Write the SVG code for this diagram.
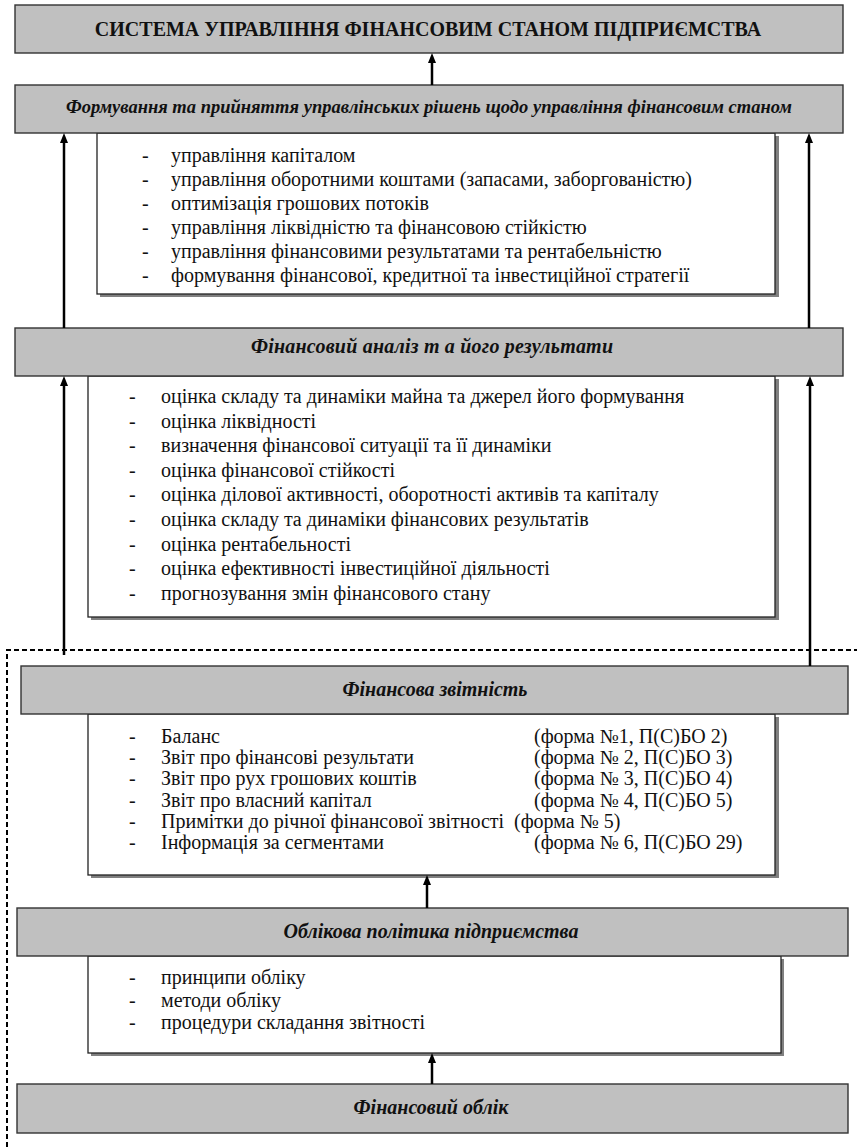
<svg xmlns="http://www.w3.org/2000/svg" width="857" height="1147" viewBox="0 0 857 1147">
<style>
.hdr{fill:#c0c0c0;stroke:#333;stroke-width:1.4}
.shadow{fill:#808080}
.list{fill:#fff;stroke:#222;stroke-width:1.3}
text{font-family:"Liberation Serif","Times New Roman",Tinos,"DejaVu Serif",serif}
.title{font-weight:bold;font-size:20px;fill:#111;text-anchor:middle}
.lbl{font-weight:bold;font-style:italic;font-size:20px;fill:#111;text-anchor:middle}
.txt{font-size:20px;fill:#111}
.conn{stroke:#000;stroke-width:2.5;fill:none;marker-end:url(#ah)}
.dash{stroke:#000;stroke-width:2;fill:none;stroke-dasharray:5 3}
</style>
<defs>
<marker id="ah" viewBox="0 0 10 8" refX="4" refY="4" markerWidth="10" markerHeight="8" markerUnits="userSpaceOnUse" orient="auto">
<path d="M0,0 L10,4 L0,8 z" fill="#000"/>
</marker>
</defs>

<g id="boundary">
<path class="dash" d="M7,1147 V650 H857"/>
</g>

<g id="n-system">
<rect class="hdr" x="15" y="5" width="828" height="48"/>
<text class="title" x="428" y="36">СИСТЕМА УПРАВЛІННЯ ФІНАНСОВИМ СТАНОМ ПІДПРИЄМСТВА</text>
</g>

<g id="n-decisions">
<rect class="shadow" x="100" y="136" width="679" height="161"/>
<rect class="list" x="97" y="133" width="678" height="161"/>
<rect class="hdr" x="15" y="85" width="828" height="48"/>
<text class="lbl" x="429" y="113" style="font-size:18.5px">Формування та прийняття управлінських рішень щодо управління фінансовим станом</text>
<g class="txt">
<text x="142" y="162">-</text><text x="171" y="162">управління капіталом</text>
<text x="142" y="186">-</text><text x="171" y="186">управління оборотними коштами (запасами, заборгованістю)</text>
<text x="142" y="210">-</text><text x="171" y="210">оптимізація грошових потоків</text>
<text x="142" y="234">-</text><text x="171" y="234">управління ліквідністю та фінансовою стійкістю</text>
<text x="142" y="258">-</text><text x="171" y="258">управління фінансовими результатами та рентабельністю</text>
<text x="142" y="282">-</text><text x="171" y="282">формування фінансової, кредитної та інвестиційної стратегії</text>
</g>
</g>

<g id="n-analysis">
<rect class="shadow" x="91" y="379" width="688" height="241"/>
<rect class="list" x="88" y="376" width="687" height="241"/>
<rect class="hdr" x="15" y="328" width="828" height="48"/>
<text class="lbl" x="432" y="353" textLength="362" lengthAdjust="spacing">Фінансовий аналіз т а його результати</text>
<g class="txt">
<text x="129" y="403">-</text><text x="161" y="403">оцінка складу та динаміки майна та джерел його формування</text>
<text x="129" y="427.6">-</text><text x="161" y="427.6">оцінка ліквідності</text>
<text x="129" y="452.2">-</text><text x="161" y="452.2">визначення фінансової ситуації та її динаміки</text>
<text x="129" y="476.8">-</text><text x="161" y="476.8">оцінка фінансової стійкості</text>
<text x="129" y="501.4">-</text><text x="161" y="501.4">оцінка ділової активності, оборотності активів та капіталу</text>
<text x="129" y="526">-</text><text x="161" y="526">оцінка складу та динаміки фінансових результатів</text>
<text x="129" y="550.6">-</text><text x="161" y="550.6">оцінка рентабельності</text>
<text x="129" y="575.2">-</text><text x="161" y="575.2">оцінка ефективності інвестиційної діяльності</text>
<text x="129" y="599.8">-</text><text x="161" y="599.8">прогнозування змін фінансового стану</text>
</g>
</g>

<g id="n-reporting">
<rect class="shadow" x="91" y="717" width="688" height="161"/>
<rect class="list" x="88" y="714" width="687" height="161"/>
<rect class="hdr" x="21" y="666" width="827" height="48"/>
<text class="lbl" x="435" y="696">Фінансова звітність</text>
<g class="txt">
<text x="129" y="743">-</text><text x="161" y="743">Баланс</text><text x="534" y="743">(форма №1, П(С)БО 2)</text>
<text x="129" y="764.2">-</text><text x="161" y="764.2">Звіт про фінансові результати</text><text x="534" y="764.2">(форма № 2, П(С)БО 3)</text>
<text x="129" y="785.4">-</text><text x="161" y="785.4">Звіт про рух грошових коштів</text><text x="534" y="785.4">(форма № 3, П(С)БО 4)</text>
<text x="129" y="806.6">-</text><text x="161" y="806.6">Звіт про власний капітал</text><text x="534" y="806.6">(форма № 4, П(С)БО 5)</text>
<text x="129" y="827.8">-</text><text x="161" y="827.8">Примітки до річної фінансової звітності</text><text x="514" y="827.8">(форма № 5)</text>
<text x="129" y="849">-</text><text x="161" y="849">Інформація за сегментами</text><text x="534" y="849">(форма № 6, П(С)БО 29)</text>
</g>
</g>

<g id="n-policy">
<rect class="shadow" x="91" y="959" width="693" height="97"/>
<rect class="list" x="88" y="956" width="693" height="97"/>
<rect class="hdr" x="17" y="908" width="831" height="48"/>
<text class="lbl" x="431" y="938">Облікова політика підприємства</text>
<g class="txt">
<text x="129" y="984">-</text><text x="161" y="984">принципи обліку</text>
<text x="129" y="1006.5">-</text><text x="161" y="1006.5">методи обліку</text>
<text x="129" y="1029">-</text><text x="161" y="1029">процедури складання звітності</text>
</g>
</g>

<g id="n-accounting">
<rect class="hdr" x="17" y="1084" width="831" height="49"/>
<text class="lbl" x="431" y="1114">Фінансовий облік</text>
</g>

<g id="connectors">
<line class="conn" x1="432" y1="85" x2="432" y2="59"/>
<line class="conn" x1="64" y1="328" x2="64" y2="139"/>
<line class="conn" x1="809" y1="328" x2="809" y2="139"/>
<line class="conn" x1="64" y1="655" x2="64" y2="382"/>
<line class="conn" x1="810" y1="666" x2="810" y2="382"/>
<line class="conn" x1="427" y1="908" x2="427" y2="881"/>
<line class="conn" x1="432" y1="1084" x2="432" y2="1059"/>
</g>
</svg>
